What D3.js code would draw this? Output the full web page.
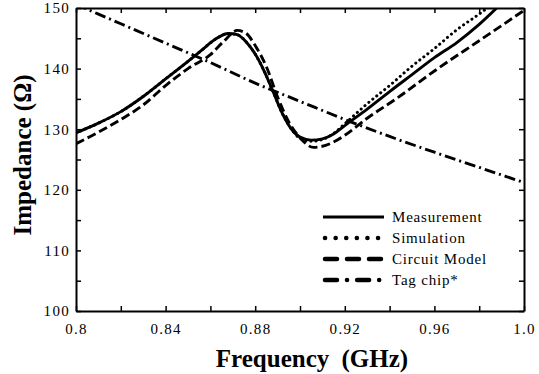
<!DOCTYPE html>
<html>
<head>
<meta charset="utf-8">
<script src="https://cdn.jsdelivr.net/npm/d3@7"></script>
<style>
  body { margin: 0; background: #fff; }
  svg { display: block; }
  text { font-family: "Liberation Serif", "Times New Roman", serif; fill: #000; }
</style>
</head>
<body>
<div id="container"></div>
<script>
// values
const freqMeas = [0.800, 0.810, 0.820, 0.830, 0.840, 0.850, 0.856, 0.862, 0.868, 0.872, 0.876, 0.880, 0.884, 0.888, 0.892, 0.896, 0.900, 0.905, 0.910, 0.915, 0.920, 0.930, 0.940, 0.950, 0.960, 0.970, 0.980, 0.990]
const measurement = [129.4, 131.0, 132.9, 135.4, 138.3, 141.2, 143.0, 144.8, 145.8, 145.6, 144.4, 142.4, 139.6, 136.2, 132.7, 130.1, 128.7, 128.2, 128.4, 129.2, 130.6, 133.3, 136.2, 139.0, 141.8, 144.3, 147.3, 150.8]

const freqSim = [0.800, 0.810, 0.820, 0.830, 0.840, 0.850, 0.856, 0.862, 0.868, 0.872, 0.876, 0.880, 0.884, 0.888, 0.892, 0.896, 0.900, 0.905, 0.910, 0.915, 0.920, 0.930, 0.940, 0.950, 0.960, 0.970, 0.980, 0.990]
const simulation = [129.4, 131.0, 132.9, 135.4, 138.3, 141.2, 143.0, 144.8, 145.8, 145.6, 144.4, 142.4, 139.6, 136.2, 132.7, 130.1, 128.5, 128.0, 128.3, 129.3, 130.9, 134.2, 137.2, 140.4, 143.3, 146.4, 149.0, 151.8]

const freqCirc = [0.800, 0.810, 0.820, 0.830, 0.840, 0.850, 0.860, 0.866, 0.872, 0.876, 0.880, 0.885, 0.890, 0.895, 0.900, 0.906, 0.914, 0.920, 0.930, 0.944, 0.960, 0.980, 1.000]
const circuit = [127.6, 129.5, 131.6, 134.0, 137.2, 140.0, 142.3, 144.5, 146.3, 145.8, 143.8, 140.3, 135.3, 131.2, 128.6, 127.0, 127.7, 129.0, 131.8, 135.3, 139.6, 144.6, 149.6]

const freqTag = [0.80, 0.82, 0.84, 0.86, 0.88, 0.90, 0.92, 0.94, 0.96, 0.98, 1.00]
const tagChip = [150.6, 147.4, 144.2, 141.0, 137.6, 134.6, 131.6, 128.8, 126.2, 123.7, 121.2]

const xTicks = [0.8, 0.84, 0.88, 0.92, 0.96, 1.0]
const xTickLabels = ["0.8", "0.84", "0.88", "0.92", "0.96", "1.0"]
const xMinor = [0.82, 0.86, 0.90, 0.94, 0.98]
const yTicks = [100, 110, 120, 130, 140, 150]
const yMinor = [105, 115, 125, 135, 145]

const seriesNames = ["Measurement", "Simulation", "Circuit Model", "Tag chip*"]

const width = 539, height = 374
const margin = {top: 8, right: 15, bottom: 63, left: 76}

const x = d3.scaleLinear().domain([0.8, 1.0]).range([margin.left, width - margin.right])
const y = d3.scaleLinear().domain([100, 150]).range([height - margin.bottom, margin.top])

const svg = d3.select("#container").append("svg")
    .attr("width", width)
    .attr("height", height)

svg.append("clipPath").attr("id", "plot")
    .append("rect")
    .attr("x", margin.left).attr("y", margin.top)
    .attr("width", x.range()[1] - margin.left)
    .attr("height", y.range()[0] - margin.top)

// line styles: dasharray for plot and legend
const styles = [
    {plot: null, legend: null, cap: "butt"},
    {plot: "0.1 5", legend: "0.1 10.5", cap: "round"},
    {plot: "9 4", legend: "12 10", cap: "butt"},
    {plot: "11 4 2 4", legend: "12 10 0.1 10", cap: "butt"}
]

const series = [
    {f: freqMeas, v: measurement},
    {f: freqSim, v: simulation},
    {f: freqCirc, v: circuit},
    {f: freqTag, v: tagChip}
]

const line = d3.line()
    .x(d => x(d[0]))
    .y(d => y(d[1]))
    .curve(d3.curveMonotoneX)

const lines = svg.append("g").attr("clip-path", "url(#plot)")

// draw bottom-most first so the solid sits on top
const order = [3, 2, 1, 0]
order.forEach(i => {
    const s = series[i]
    lines.append("path")
        .datum(s.f.map((f, j) => [f, s.v[j]]))
        .attr("fill", "none")
        .attr("stroke", "#000")
        .attr("stroke-width", i === 1 ? 3 : 2.9)
        .attr("stroke-linecap", styles[i].cap)
        .attr("stroke-dasharray", styles[i].plot)
        .attr("d", line)
})

// axes, ticks inward on all sides
function styleAxis(g) {
    g.select(".domain").attr("stroke-width", 2)
    g.selectAll(".tick line").attr("stroke-width", 1.5)
    g.selectAll("text")
        .style("font-size", "15px")
        .style("font-family", "'Liberation Serif', serif")
        .attr("letter-spacing", "1.3px")
}

svg.append("g")
    .attr("transform", `translate(0,${y(100)})`)
    .call(d3.axisBottom(x).tickValues(xTicks).tickSize(-5).tickSizeOuter(0).tickPadding(12)
        .tickFormat((d, i) => xTickLabels[i]))
    .call(styleAxis)
svg.append("g")
    .attr("transform", `translate(0,${y(100)})`)
    .call(d3.axisBottom(x).tickValues(xMinor).tickSize(-5).tickSizeOuter(0).tickFormat(""))
    .call(g => g.select(".domain").remove())
    .call(styleAxis)

svg.append("g")
    .attr("transform", `translate(${x(0.8)},0)`)
    .call(d3.axisLeft(y).tickValues(yTicks).tickSize(-5).tickSizeOuter(0).tickPadding(6))
    .call(styleAxis)
svg.append("g")
    .attr("transform", `translate(${x(0.8)},0)`)
    .call(d3.axisLeft(y).tickValues(yMinor).tickSize(-5).tickSizeOuter(0).tickFormat(""))
    .call(g => g.select(".domain").remove())
    .call(styleAxis)

svg.append("g")
    .attr("transform", `translate(0,${y(150)})`)
    .call(d3.axisTop(x).tickValues(xTicks.concat(xMinor)).tickSize(-5).tickSizeOuter(0).tickFormat(""))
    .call(styleAxis)

svg.append("g")
    .attr("transform", `translate(${x(1.0)},0)`)
    .call(d3.axisRight(y).tickValues(yTicks.concat(yMinor)).tickSize(-5).tickSizeOuter(0).tickFormat(""))
    .call(styleAxis)

// axis titles
svg.append("text")
    .attr("x", (x(0.8) + x(1.0)) / 2 + 12)
    .attr("y", 367)
    .attr("text-anchor", "middle")
    .style("font-size", "25px")
    .style("font-weight", "bold")
    .attr("word-spacing", "6px")
    .text("Frequency (GHz)")

svg.append("text")
    .attr("transform", "translate(31,155) rotate(-90)")
    .attr("text-anchor", "middle")
    .style("font-size", "25px")
    .style("font-weight", "bold")
    .text("Impedance (Ω)")

// legend
const legend = svg.append("g")
const legendRows = legend.selectAll("g")
    .data(seriesNames)
    .join("g")
    .attr("transform", (d, i) => `translate(323,${217 + i * 21})`)

legendRows.append("line")
    .attr("x1", (d, i) => i === 0 ? 0 : 2)
    .attr("x2", 61)
    .attr("stroke", "#000")
    .attr("stroke-width", (d, i) => i === 0 ? 3 : 4.5)
    .attr("stroke-linecap", (d, i) => i === 0 ? "butt" : "round")
    .attr("stroke-dasharray", (d, i) => styles[i].legend)

legendRows.append("text")
    .attr("x", 69)
    .attr("dy", "0.33em")
    .style("font-size", "15px")
    .attr("letter-spacing", "0.8px")
    .text(d => d)
</script>
</body>
</html>
